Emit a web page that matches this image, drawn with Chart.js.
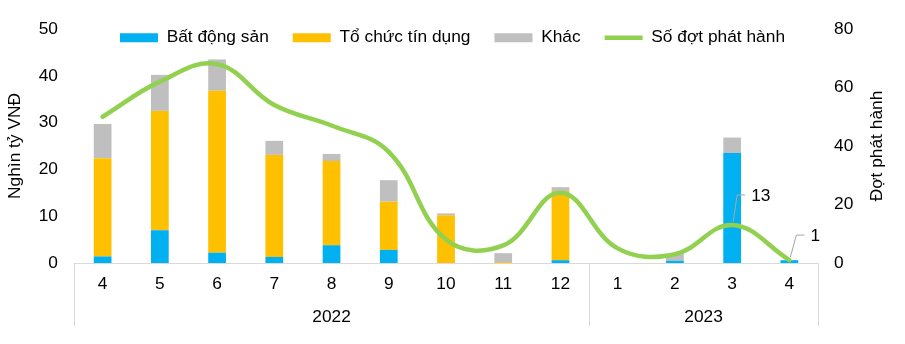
<!DOCTYPE html>
<html>
<head>
<meta charset="utf-8">
<script src="https://cdn.jsdelivr.net/npm/chart.js@4"></script>
<style>
  html, body { margin: 0; padding: 0; background: #fff; }
  #wrap { width: 905px; height: 344px; }
</style>
</head>
<body>
<div id="wrap"><canvas id="issuanceChart" width="905" height="344"></canvas></div>
<script>
// Tháng phát hành (2022: 4-12, 2023: 1-4)
const months = ['4', '5', '6', '7', '8', '9', '10', '11', '12', '1', '2', '3', '4'];
const yearGroups = [
    { label: '2022', from: 0, to: 8 },
    { label: '2023', from: 9, to: 12 }
];

// Giá trị phát hành (nghìn tỷ VNĐ)
const realEstate = [1.4, 7.0, 2.2, 1.3, 3.8, 2.8, 0, 0, 0.6, 0, 0.5, 23.5, 0.6];
const creditInst = [21.0, 25.5, 34.6, 21.8, 18.0, 10.3, 10.2, 0.2, 14.8, 0, 0, 0, 0];
const others = [7.3, 7.7, 6.7, 3.0, 1.5, 4.6, 0.4, 1.9, 0.8, 0, 1.4, 3.3, 0];

// Số đợt phát hành
const issueCount = [50, 62, 68, 54, 47, 38, 8, 6, 24, 5, 3, 13, 1];

// Nhãn dữ liệu có đường dẫn (index -> offset)
const labelledPoints = [
    { index: 11, dx: 13, dy: -30, text: '13' },
    { index: 12, dx: 15, dy: -25, text: '1' }
];

const FONT = 'Arial, "Liberation Sans", sans-serif';
const SIZE = 17.33;
const TEXT = '#000000';

// Legend overlaps the plot area like in Excel
const legendOverlay = {
    id: 'legendOverlay',
    beforeInit(chart) {
        const legend = chart.legend;
        const fit = legend.fit;
        const draw = legend.draw;
        legend.fit = function () {
            fit.call(this);
            this.height = 24;
        };
        // let the items draw below the reserved strip
        legend.draw = function () {
            const b = this.bottom;
            this.bottom = b + 40;
            draw.call(this);
            this.bottom = b;
        };
    }
};

// Year row, separators, right title and leader-line labels
const extras = {
    id: 'extras',
    afterDraw(chart) {
        const ctx = chart.ctx;
        const x = chart.scales.x;
        const area = chart.chartArea;
        const bottom = area.bottom + 63;

        ctx.save();
        ctx.strokeStyle = '#D9D9D9';
        ctx.lineWidth = 1;

        const bounds = [];
        yearGroups.forEach(g => {
            const half = (x.getPixelForTick(1) - x.getPixelForTick(0)) / 2;
            const left = x.getPixelForTick(g.from) - half;
            const right = x.getPixelForTick(g.to) + half;
            bounds.push(left, right);

            ctx.fillStyle = TEXT;
            ctx.font = SIZE + 'px ' + FONT;
            ctx.textAlign = 'center';
            ctx.textBaseline = 'middle';
            ctx.fillText(g.label, (left + right) / 2, area.bottom + 54);
        });
        [...new Set(bounds.map(b => Math.round(b)))].forEach(bx => {
            ctx.beginPath();
            ctx.moveTo(bx + 0.5, area.bottom);
            ctx.lineTo(bx + 0.5, bottom);
            ctx.stroke();
        });

        // Right axis title, reading bottom to top
        ctx.save();
        ctx.translate(area.right + 59, (area.top + area.bottom) / 2);
        ctx.rotate(-Math.PI / 2);
        ctx.fillStyle = TEXT;
        ctx.font = SIZE + 'px ' + FONT;
        ctx.textAlign = 'center';
        ctx.textBaseline = 'middle';
        ctx.fillText('Đợt phát hành', 0, 0);
        ctx.restore();

        // Data labels with leader lines
        const meta = chart.getDatasetMeta(3);
        ctx.strokeStyle = '#A6A6A6';
        ctx.lineWidth = 1;
        labelledPoints.forEach(p => {
            const pt = meta.data[p.index];
            const px = pt.x;
            const py = pt.y;
            ctx.beginPath();
            ctx.moveTo(px + 1, py - 3);
            ctx.lineTo(px + p.dx - 8, py + p.dy);
            ctx.lineTo(px + p.dx, py + p.dy);
            ctx.stroke();

            ctx.fillStyle = TEXT;
            ctx.font = SIZE + 'px ' + FONT;
            ctx.textAlign = 'left';
            ctx.textBaseline = 'middle';
            ctx.fillText(p.text, px + p.dx + 6, py + p.dy + 1);
        });
        ctx.restore();
    }
};

const ctx = document.getElementById('issuanceChart').getContext('2d');
new Chart(ctx, {
    data: {
        labels: months,
        datasets: [
            {
                type: 'bar',
                label: 'Bất động sản',
                data: realEstate,
                backgroundColor: '#00B0F0',
                borderWidth: 0,
                pointStyle: 'rect',
                yAxisID: 'y',
                stack: 'value'
            },
            {
                type: 'bar',
                label: 'Tổ chức tín dụng',
                data: creditInst,
                backgroundColor: '#FFC000',
                borderWidth: 0,
                pointStyle: 'rect',
                yAxisID: 'y',
                stack: 'value'
            },
            {
                type: 'bar',
                label: 'Khác',
                data: others,
                backgroundColor: '#BFBFBF',
                borderWidth: 0,
                pointStyle: 'rect',
                yAxisID: 'y',
                stack: 'value'
            },
            {
                type: 'line',
                label: 'Số đợt phát hành',
                data: issueCount,
                borderColor: '#92D050',
                backgroundColor: '#92D050',
                borderWidth: 4.5,
                borderCapStyle: 'round',
                pointRadius: 0,
                pointStyle: 'line',
                tension: 0.4,
                yAxisID: 'y1',
                order: -1
            }
        ]
    },
    options: {
        responsive: false,
        animation: false,
        layout: { padding: { top: 5, left: 0, right: 0, bottom: 3 } },
        datasets: {
            bar: { barPercentage: 0.31, categoryPercentage: 1 }
        },
        plugins: {
            legend: {
                position: 'top',
                labels: {
                    usePointStyle: true,
                    pointStyleWidth: 38,
                    boxHeight: 9,
                    padding: 24,
                    color: TEXT,
                    font: { family: FONT, size: SIZE },
                    sort: (a, b) => a.datasetIndex - b.datasetIndex
                }
            },
            tooltip: { enabled: false }
        },
        scales: {
            x: {
                stacked: true,
                grid: { display: false, drawTicks: false },
                border: { color: '#D9D9D9' },
                ticks: {
                    padding: 11,
                    color: TEXT,
                    font: { family: FONT, size: SIZE },
                    maxRotation: 0
                },
                afterFit: (scale) => { scale.height = 78; }
            },
            y: {
                stacked: true,
                position: 'left',
                min: 0,
                max: 50,
                grid: { display: false, drawTicks: false },
                border: { display: false },
                ticks: {
                    stepSize: 10,
                    padding: 16,
                    color: TEXT,
                    font: { family: FONT, size: SIZE }
                },
                title: {
                    display: true,
                    text: 'Nghìn tỷ VNĐ',
                    color: TEXT,
                    font: { family: FONT, size: SIZE },
                    padding: { top: 5, bottom: 10 }
                },
                afterFit: (scale) => { scale.width = 74; }
            },
            y1: {
                position: 'right',
                min: 0,
                max: 80,
                grid: { display: false, drawTicks: false },
                border: { display: false },
                ticks: {
                    stepSize: 20,
                    padding: 16,
                    color: TEXT,
                    font: { family: FONT, size: SIZE }
                },
                afterFit: (scale) => { scale.width = 87; }
            }
        }
    },
    plugins: [legendOverlay, extras]
});
</script>
</body>
</html>
